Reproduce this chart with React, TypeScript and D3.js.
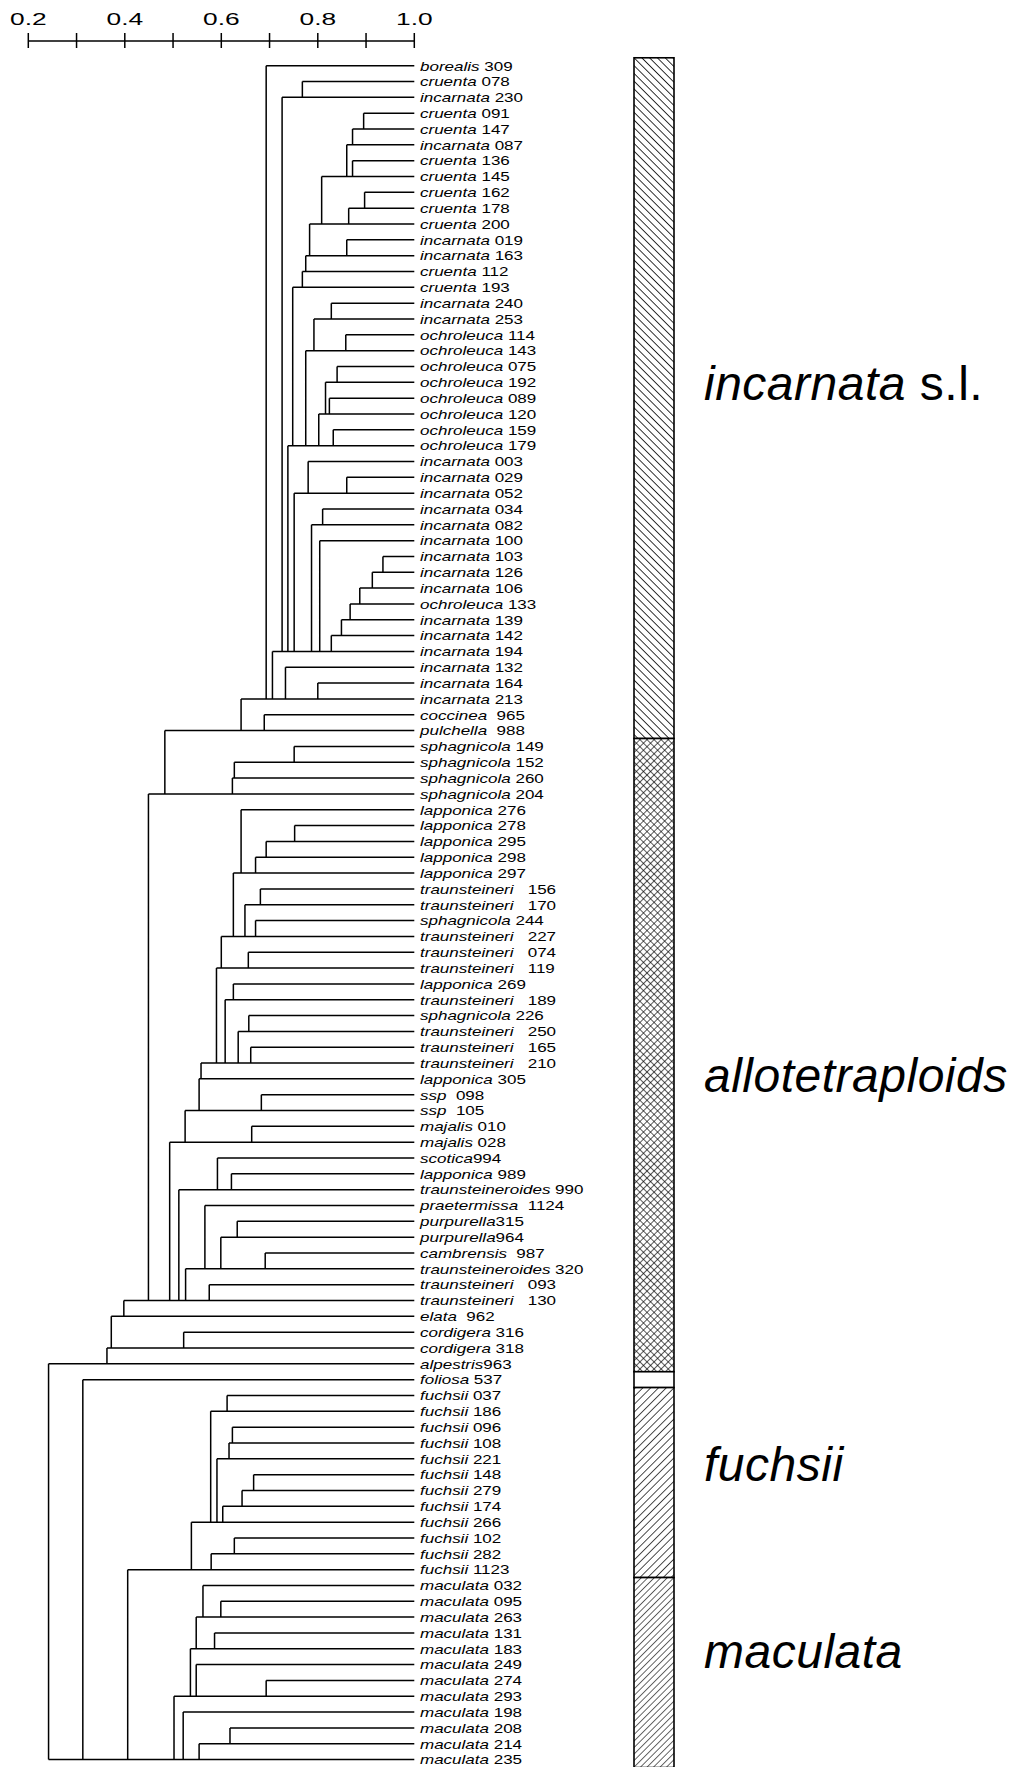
import React from 'react';
import * as d3 from 'd3';

// ---------- data ----------
const axisTicks = [0.2, 0.3, 0.4, 0.5, 0.6, 0.7, 0.8, 0.9, 1.0];
const axisLabelValues = [0.2, 0.4, 0.6, 0.8, 1.0];

// leaf labels, top to bottom ("species<spaces>number")
const leafLabels = [
  'borealis 309', 'cruenta 078', 'incarnata 230', 'cruenta 091', 'cruenta 147', 'incarnata 087',
  'cruenta 136', 'cruenta 145', 'cruenta 162', 'cruenta 178', 'cruenta 200', 'incarnata 019',
  'incarnata 163', 'cruenta 112', 'cruenta 193', 'incarnata 240', 'incarnata 253', 'ochroleuca 114',
  'ochroleuca 143', 'ochroleuca 075', 'ochroleuca 192', 'ochroleuca 089', 'ochroleuca 120',
  'ochroleuca 159', 'ochroleuca 179', 'incarnata 003', 'incarnata 029', 'incarnata 052',
  'incarnata 034', 'incarnata 082', 'incarnata 100', 'incarnata 103', 'incarnata 126',
  'incarnata 106', 'ochroleuca 133', 'incarnata 139', 'incarnata 142', 'incarnata 194',
  'incarnata 132', 'incarnata 164', 'incarnata 213', 'coccinea  965', 'pulchella  988',
  'sphagnicola 149', 'sphagnicola 152', 'sphagnicola 260', 'sphagnicola 204', 'lapponica 276',
  'lapponica 278', 'lapponica 295', 'lapponica 298', 'lapponica 297', 'traunsteineri   156',
  'traunsteineri   170', 'sphagnicola 244', 'traunsteineri   227', 'traunsteineri   074',
  'traunsteineri   119', 'lapponica 269', 'traunsteineri   189', 'sphagnicola 226',
  'traunsteineri   250', 'traunsteineri   165', 'traunsteineri   210', 'lapponica 305',
  'ssp  098', 'ssp  105', 'majalis 010', 'majalis 028', 'scotica994', 'lapponica 989',
  'traunsteineroides 990', 'praetermissa  1124', 'purpurella315', 'purpurella964',
  'cambrensis  987', 'traunsteineroides 320', 'traunsteineri   093', 'traunsteineri   130',
  'elata  962', 'cordigera 316', 'cordigera 318', 'alpestris963', 'foliosa 537',
  'fuchsii 037', 'fuchsii 186', 'fuchsii 096', 'fuchsii 108', 'fuchsii 221', 'fuchsii 148',
  'fuchsii 279', 'fuchsii 174', 'fuchsii 266', 'fuchsii 102', 'fuchsii 282', 'fuchsii 1123',
  'maculata 032', 'maculata 095', 'maculata 263', 'maculata 131', 'maculata 183',
  'maculata 249', 'maculata 274', 'maculata 293', 'maculata 198', 'maculata 208',
  'maculata 214', 'maculata 235',
];

// hclust-style merges: negative = leaf (1-based), positive = earlier merge (1-based); similarity
const merges: [number, number, number][] = [
  [-2, -3, 0.768], [-4, -5, 0.895], [2, -6, 0.872], [-7, -8, 0.872], [3, 4, 0.860],
  [-9, -10, 0.897], [6, -11, 0.864], [5, 7, 0.808], [-12, -13, 0.860], [8, 9, 0.783],
  [10, -14, 0.775], [11, -15, 0.768], [-16, -17, 0.828], [-18, -19, 0.858], [13, 14, 0.792],
  [-20, -21, 0.840], [-22, -23, 0.824], [16, 17, 0.816], [-24, -25, 0.832], [18, 19, 0.802],
  [15, 20, 0.775], [12, 21, 0.748], [-27, -28, 0.860], [-26, 23, 0.780], [-29, -30, 0.810],
  [-32, -33, 0.935], [26, -34, 0.913], [27, -35, 0.887], [28, -36, 0.867], [29, -37, 0.849],
  [30, -38, 0.828], [-31, 31, 0.804], [25, 32, 0.787], [24, 33, 0.751], [22, 34, 0.738],
  [1, 35, 0.726], [-40, -41, 0.800], [-39, 37, 0.733], [36, 38, 0.706], [-1, 39, 0.693],
  [-42, -43, 0.689], [40, 41, 0.641], [-44, -45, 0.751], [43, -46, 0.627], [44, -47, 0.623],
  [42, 45, 0.483], [-49, -50, 0.752], [47, -51, 0.693], [48, -52, 0.671], [-48, 49, 0.641],
  [-53, -54, 0.681], [-55, -56, 0.671], [51, 52, 0.649], [50, 53, 0.625], [-57, -58, 0.656],
  [54, 55, 0.600], [-59, -60, 0.625], [-61, -62, 0.657], [-63, -64, 0.661], [58, 59, 0.635],
  [57, 60, 0.608], [56, 61, 0.590], [62, -65, 0.558], [-66, -67, 0.683], [63, 64, 0.554],
  [-68, -69, 0.663], [65, 66, 0.525], [-71, -72, 0.621], [-70, 68, 0.592], [-74, -75, 0.633],
  [-76, -77, 0.691], [70, 71, 0.599], [-73, 72, 0.566], [-78, -79, 0.575], [73, 74, 0.526],
  [69, 75, 0.512], [67, 76, 0.493], [46, 77, 0.449], [78, -80, 0.398], [-81, -82, 0.522],
  [79, 80, 0.372], [81, -83, 0.363], [-85, -86, 0.612], [-87, -88, 0.623], [84, -89, 0.616],
  [-90, -91, 0.667], [86, -92, 0.643], [87, -93, 0.603], [85, 88, 0.591], [83, 89, 0.578],
  [-94, -95, 0.627], [91, -96, 0.579], [90, 92, 0.538], [-98, -99, 0.599], [-97, 94, 0.562],
  [-100, -101, 0.586], [95, 96, 0.548], [-103, -104, 0.693], [-102, 98, 0.548], [97, 99, 0.536],
  [-106, -107, 0.618], [101, -108, 0.554], [-105, 102, 0.521], [100, 103, 0.502],
  [93, 104, 0.406], [-84, 105, 0.313], [82, 106, 0.242],
];

// groups shown in the side bar
const groupNames = ['incarnata', 'allotetraploids', '', 'fuchsii', 'maculata'];
const groupSuffix = [' s.l.', '', '', '', ''];
const groupFirstLeaf = [1, 44, 84, 85, 97];
const groupLastLeaf = [43, 83, 84, 96, 108];
const groupPattern = ['hatchBack', 'cross', 'none', 'hatchFwd', 'hatchFwd2'];

type TNode = { leaf?: number; h: number; rep: number; children?: TNode[] };

export default function App() {
  const W = 1016;
  const H = 1767;
  const x = d3.scaleLinear().domain([0.2, 1.0]).range([28.3, 414.3]);
  const y = d3.scaleLinear().domain([1, leafLabels.length]).range([65.7, 1759.6]);
  const step = y(2) - y(1);

  // build tree
  const leafNodes: TNode[] = leafLabels.map((_, i) => ({ leaf: i + 1, h: 1, rep: i + 1 }));
  const mergeNodes: TNode[] = [];
  const get = (k: number) => (k < 0 ? leafNodes[-k - 1] : mergeNodes[k - 1]);
  merges.forEach(([a, b, h]) => {
    const L = get(a);
    const R = get(b);
    mergeNodes.push({ h, rep: R.rep, children: [L, R] });
  });
  const root = d3.hierarchy<TNode>(mergeNodes[mergeNodes.length - 1], (d) => d.children);

  const p = d3.path();
  root.descendants().forEach((d) => {
    if (d.parent) {
      p.moveTo(x(d.parent.data.h), y(d.data.rep));
      p.lineTo(x(d.data.h), y(d.data.rep));
    }
    if (d.children) {
      p.moveTo(x(d.data.h), y(d.children[0].data.rep));
      p.lineTo(x(d.data.h), y(d.children[1].data.rep));
    }
  });

  const font = "'Liberation Sans', Arial, Helvetica, sans-serif";
  const labelRe = /^(\D+?)(\s*)(\d+)$/;
  const barX0 = 634;
  const barW = 40;
  const groupLabelY = [400, 1092, 0, 1481, 1668];

  return (
    <svg width={W} height={H} style={{ position: 'absolute', left: 0, top: 0, background: '#fff' }}
      xmlns="http://www.w3.org/2000/svg">
      <defs>
        <pattern id="hatchBack" patternUnits="userSpaceOnUse" width={5.5} height={5.5}
          patternTransform="rotate(-45)">
          <rect width={5.5} height={5.5} fill="#fff" />
          <line x1={0} y1={0} x2={0} y2={5.5} stroke="#000" strokeWidth={1.6} />
        </pattern>
        <pattern id="hatchFwd" patternUnits="userSpaceOnUse" width={5.5} height={5.5}
          patternTransform="rotate(45)">
          <rect width={5.5} height={5.5} fill="#fff" />
          <line x1={0} y1={0} x2={0} y2={5.5} stroke="#000" strokeWidth={1.4} />
        </pattern>
        <pattern id="hatchFwd2" patternUnits="userSpaceOnUse" width={4.6} height={4.6}
          patternTransform="rotate(45)">
          <rect width={4.6} height={4.6} fill="#fff" />
          <line x1={0} y1={0} x2={0} y2={4.6} stroke="#000" strokeWidth={1.2} />
        </pattern>
        <pattern id="cross" patternUnits="userSpaceOnUse" width={5} height={5}
          patternTransform="rotate(45)">
          <rect width={5} height={5} fill="#fff" />
          <line x1={0} y1={0} x2={0} y2={5} stroke="#000" strokeWidth={1.3} />
          <line x1={0} y1={0} x2={5} y2={0} stroke="#000" strokeWidth={1.3} />
        </pattern>
      </defs>

      {/* axis */}
      <g stroke="#000" strokeWidth={1.5} fill="none">
        <line x1={x(0.2)} x2={x(1.0)} y1={41} y2={41} />
        {axisTicks.map((t) => (
          <line key={t} x1={x(t)} x2={x(t)} y1={33} y2={48} />
        ))}
      </g>
      {axisLabelValues.map((t) => (
        <text key={t} transform={`translate(${x(t)},24.5) scale(1.55,1)`} textAnchor="middle"
          fontFamily={font} fontSize={17} fill="#000">
          {d3.format('.1f')(t)}
        </text>
      ))}

      {/* dendrogram */}
      <path d={p.toString()} stroke="#000" strokeWidth={1.5} fill="none" />

      {/* leaf labels */}
      {leafLabels.map((lab, i) => {
        const m = lab.match(labelRe);
        const sp = m ? m[1] : lab;
        const gap = m ? m[2].replace(/ /g, '\u00A0') : '';
        const num = m ? m[3] : '';
        return (
          <text key={i} transform={`translate(420,${y(i + 1) + 4.8}) scale(1.27,1)`}
            fontFamily={font} fontSize={13.4} fill="#000">
            <tspan fontStyle="italic">{sp}</tspan>
            <tspan>{gap + num}</tspan>
          </text>
        );
      })}

      {/* side bar */}
      {groupNames.map((g, gi) => {
        const top = y(groupFirstLeaf[gi]) - step / 2;
        const bot = y(groupLastLeaf[gi]) + step / 2;
        const pat = groupPattern[gi];
        return (
          <rect key={gi} x={barX0} y={top} width={barW} height={bot - top}
            fill={pat === 'none' ? '#fff' : `url(#${pat})`} stroke="#000" strokeWidth={1.6} />
        );
      })}

      {/* group labels */}
      {groupNames.map((g, gi) =>
        g ? (
          <text key={gi} x={704} y={groupLabelY[gi]} fontFamily={font} fontSize={48} fill="#000"
            letterSpacing={0.5}>
            <tspan fontStyle="italic">{g}</tspan>
            {groupSuffix[gi] ? <tspan>{groupSuffix[gi]}</tspan> : null}
          </text>
        ) : null
      )}
    </svg>
  );
}
